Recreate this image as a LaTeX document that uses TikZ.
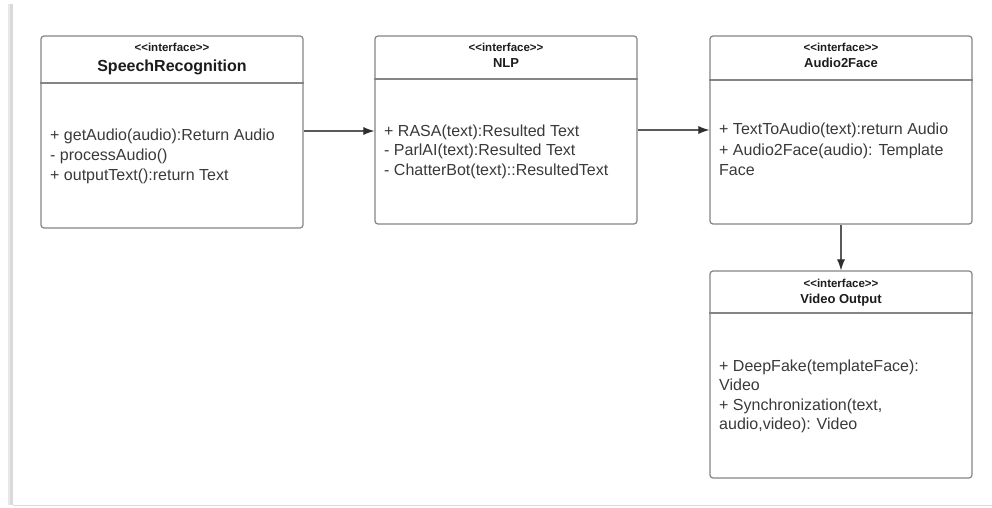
\documentclass[tikz,border=0pt]{standalone}
\usepackage{fontspec}
\setmainfont{Liberation Sans}
\usetikzlibrary{arrows.meta}
\definecolor{edgegray}{HTML}{858585}
\definecolor{bodytext}{HTML}{3A3A3A}
\definecolor{headtext}{HTML}{1C1C1C}
\definecolor{framegray}{HTML}{D9D9D9}
\definecolor{linkgray}{HTML}{5A5A5A}
\definecolor{tipgray}{HTML}{2E2E2E}
\newcommand{\stereotype}{{<}{<}interface{>}{>}}
\tikzset{
  umlbox/.style={draw=edgegray, line width=1.2pt, rounded corners=3pt, fill=white, inner sep=0pt},
  divider/.style={draw=edgegray, line width=1.1pt},
  stereo/.style={font=\bfseries\fontsize{11.5}{13}\selectfont, text=headtext, inner sep=0pt, anchor=base},
  title/.style={font=\bfseries\fontsize{13}{15}\selectfont, text=headtext, inner sep=0pt, anchor=base},
  bigtitle/.style={font=\bfseries\fontsize{16}{18}\selectfont, text=headtext, inner sep=0pt, anchor=base},
  member/.style={font=\fontsize{16}{20}\selectfont, text=bodytext, inner sep=0pt, anchor=base west},
  link/.style={draw=linkgray, line width=1.1pt,
    -{Latex[length=11pt, width=8pt, color=tipgray]}}
}
\begin{document}
\begin{tikzpicture}[x=1pt, y=-1pt]
  \useasboundingbox (0,0) rectangle (992,508);
  \fill[white] (0,0) rectangle (992,508);
  % page edge
  \draw[framegray, line width=2.5pt] (11.5,4) -- (11.5,505);
  \draw[framegray!60, line width=1.5pt] (9,4) -- (9,505);
  \draw[framegray, line width=1.4pt] (13,505.5) -- (992,505.5);

  % class boxes
  \node[umlbox, minimum width=262pt, minimum height=192pt] (sr)  at (172,132)   {};
  \node[umlbox, minimum width=262pt, minimum height=188pt] (nlp) at (506,130)   {};
  \node[umlbox, minimum width=262pt, minimum height=188pt] (a2f) at (841,130)   {};
  \node[umlbox, minimum width=262pt, minimum height=207pt] (vo)  at (841,374.5) {};

  % compartments
  \draw[divider] (sr.west |- 0,83)   -- (sr.east |- 0,83);
  \draw[divider] (nlp.west |- 0,79)  -- (nlp.east |- 0,79);
  \draw[divider] (a2f.west |- 0,80)  -- (a2f.east |- 0,80);
  \draw[divider] (vo.west |- 0,313)  -- (vo.east |- 0,313);

  % SpeechRecognition
  \node[stereo]   (srs) at (172,52)  {\stereotype};
  \node[bigtitle] (srt) at (172,72)  {SpeechRecognition};
  \node[member]   (sr1) at (50,140)  {+ getAudio(audio):Return Audio};
  \node[member]   (sr2) at (50,160)  {- processAudio()};
  \node[member]   (sr3) at (50,180)  {+ outputText():return Text};

  % NLP
  \node[stereo] (nlps) at (506,52)  {\stereotype};
  \node[title]  (nlpt) at (506,68)  {NLP};
  \node[member] (nlp1) at (384,136) {+ RASA(text):Resulted Text};
  \node[member] (nlp2) at (384,155) {- ParlAI(text):Resulted Text};
  \node[member] (nlp3) at (384,175) {- ChatterBot(text)::ResultedText};

  % Audio2Face
  \node[stereo] (a2fs) at (841,52)  {\stereotype};
  \node[title]  (a2ft) at (841,68)  {Audio2Face};
  \node[member] (a2f1) at (719,135) {+ TextToAudio(text):return Audio};
  \node[member] (a2f2) at (719,155) {+ Audio2Face(audio): Template};
  \node[member] (a2f3) at (719,175) {Face};

  % Video Output
  \node[stereo] (vos) at (841,287) {\stereotype};
  \node[title]  (vot) at (841,303) {Video Output};
  \node[member] (vo1) at (719,371) {+ DeepFake(templateFace):};
  \node[member] (vo2) at (719,390) {Video};
  \node[member] (vo3) at (719,410) {+ Synchronization(text,};
  \node[member] (vo4) at (719,429) {audio,video): Video};

  % connectors
  \draw[link] (sr.east |- 0,131)  -- (nlp.west |- 0,131);
  \draw[link] (nlp.east |- 0,130) -- (a2f.west |- 0,130);
  \draw[link] (a2f.south) -- (vo.north);
\end{tikzpicture}
\end{document}
